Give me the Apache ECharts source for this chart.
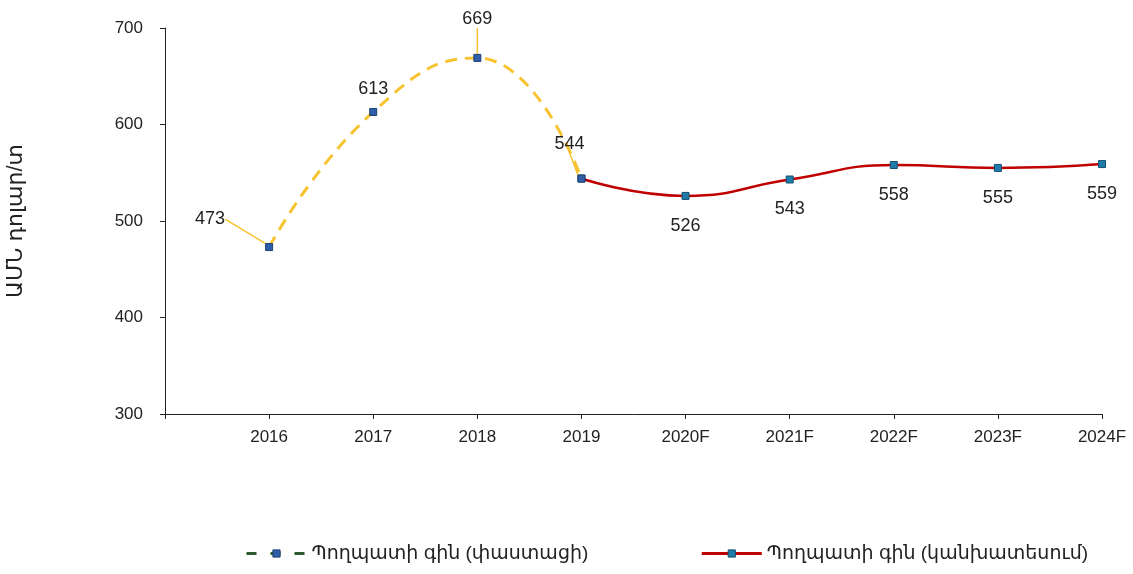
<!DOCTYPE html>
<html>
<head>
<meta charset="utf-8">
<script src="https://cdn.jsdelivr.net/npm/echarts@6/dist/echarts.min.js"></script>
<style>
  html, body { margin: 0; padding: 0; background: #fff; }
  #chart { width: 1133px; height: 574px; }
</style>
</head>
<body>
<div id="chart"></div>
<script>
// categories (first one blank so 2016 sits one step right of the y axis)
var years = ["", "2016", "2017", "2018", "2019", "2020F", "2021F", "2022F", "2023F", "2024F"];
var actual = ["-", 473, 613, 669, 544, "-", "-", "-", "-", "-"];
var forecast = ["-", "-", "-", "-", 544, 526, 543, 558, 555, 559];
var yTicks = [300, 400, 500, 600, 700];

var FONT = "Liberation Sans, DejaVu Sans, Arial, sans-serif";
var yellow = "#F7C331";
var red = "#C00000";

// label shifts for the actual series (dx, dy from the default "top" spot)
var actualShift = {
  1: [-59, -5],
  2: [0, 0],
  3: [0, -16],
  4: [-12, -12]
};

var actualData = actual.map(function (v, i) {
  return i === 2 ? { value: v, labelLine: { show: false } } : v;
});

var MyEcharts = echarts.init(document.getElementById("chart"));
var option = {
  animation: false,
  textStyle: { fontFamily: FONT },
  grid: { left: 165, right: 31, top: 28, bottom: 160, outerBoundsMode: "none", containLabel: false },
  legend: {
    bottom: 6,
    left: 240,
    itemWidth: 60,
    itemHeight: 9,
    itemGap: 112,
    textStyle: { fontSize: 19, color: "#222", fontFamily: FONT },
    data: [
      {
        name: "Պողպատի գին (փաստացի)",
        itemStyle: { color: "#2E5FA8", borderColor: "#1F3F70", borderWidth: 1 },
        lineStyle: { color: "#2F5A2F", type: [10, 14], width: 3 }
      },
      {
        name: "Պողպատի գին (կանխատեսում)",
        itemStyle: { color: "#1F7BA8", borderColor: "#145070", borderWidth: 1 },
        lineStyle: { color: red, width: 3 }
      }
    ]
  },
  xAxis: {
    type: "category",
    data: years,
    boundaryGap: false,
    axisLine: { lineStyle: { color: "#222", width: 1 } },
    axisTick: { show: true, length: 5, lineStyle: { color: "#222" } },
    axisLabel: { fontSize: 17, color: "#222", margin: 15, fontFamily: FONT },
    splitLine: { show: false }
  },
  yAxis: {
    type: "value",
    min: yTicks[0],
    max: yTicks[yTicks.length - 1],
    interval: 100,
    name: "ԱՄՆ դոլար/տ",
    nameLocation: "middle",
    nameGap: 138,
    nameRotate: 90,
    nameTextStyle: { fontSize: 22, color: "#222", fontFamily: FONT },
    axisLine: { show: true, lineStyle: { color: "#222", width: 1 } },
    axisTick: { show: true, length: 5, lineStyle: { color: "#222" } },
    axisLabel: { fontSize: 17, color: "#222", margin: 22, fontFamily: FONT },
    splitLine: { show: false }
  },
  series: [
    {
      name: "Պողպատի գին (փաստացի)",
      type: "line",
      data: actualData,
      smooth: 0.5,
      connectNulls: false,
      symbol: "rect",
      symbolSize: 7,
      itemStyle: { color: "#2E5FA8", borderColor: "#1F3F70", borderWidth: 1 },
      lineStyle: { color: yellow, width: 3, type: [12, 8] },
      z: 3,
      label: {
        show: true,
        position: "top",
        distance: 10,
        fontSize: 18,
        color: "#222",
        fontFamily: FONT
      },
      labelLine: { show: true, lineStyle: { color: yellow, width: 1.5 } },
      labelLayout: function (p) {
        var s = actualShift[p.dataIndex] || [0, 0];
        return { dx: s[0], dy: s[1] };
      }
    },
    {
      name: "Պողպատի գին (կանխատեսում)",
      type: "line",
      data: forecast,
      smooth: 0.5,
      symbol: "rect",
      symbolSize: 7,
      itemStyle: { color: "#1F7BA8", borderColor: "#145070", borderWidth: 1 },
      lineStyle: { color: red, width: 2.5 },
      z: 2,
      label: {
        show: true,
        position: "bottom",
        distance: 17,
        fontSize: 18,
        color: "#222",
        fontFamily: FONT,
        formatter: function (p) {
          return p.dataIndex === 4 ? "" : p.value;
        }
      }
    }
  ]
};
MyEcharts.setOption(option);
window.addEventListener("resize", function () {
  MyEcharts.resize();
});
</script>
</body>
</html>
